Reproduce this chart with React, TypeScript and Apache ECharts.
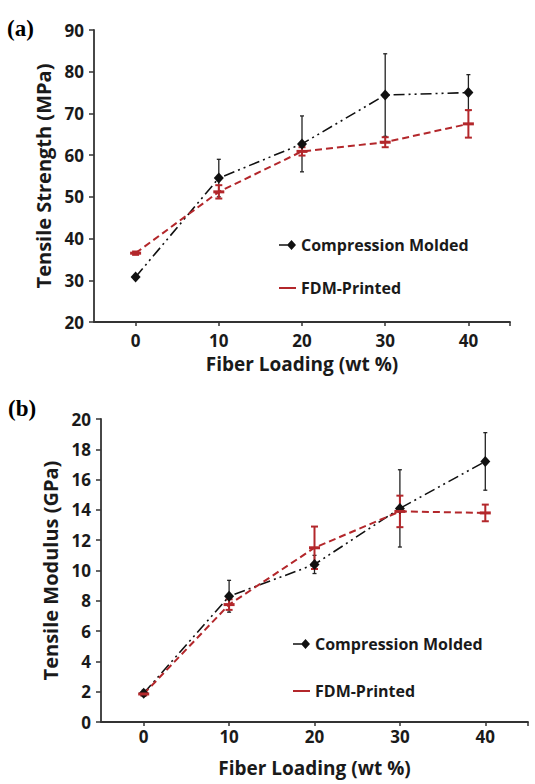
import React, { useEffect, useRef } from "react";
import * as echarts from "echarts";

const fiberLoading = [0, 10, 20, 30, 40];
const xTickValues = [0, 10, 20, 30, 40, 45];
const xLabelValues = [0, 10, 20, 30, 40];

const strengthCM = [30.8, 54.5, 62.7, 74.4, 75.0];
const strengthCMErr = [0.5, 4.5, 6.7, 9.9, 4.3];
const strengthFDM = [36.5, 51.2, 60.9, 63.1, 67.5];
const strengthFDMErr = [0.4, 1.6, 1.0, 1.2, 3.3];

const modulusCM = [1.9, 8.3, 10.4, 14.1, 17.2];
const modulusCMErr = [0.2, 1.05, 0.6, 2.55, 1.9];
const modulusFDM = [1.85, 7.75, 11.5, 13.9, 13.8];
const modulusFDMErr = [0.1, 0.35, 1.4, 1.04, 0.55];

const seriesNames = ["Compression Molded", "FDM-Printed"];
const panelLabels = ["(a)", "(b)"];
const axisTitlesX = ["Fiber Loading (wt %)", "Fiber Loading (wt %)"];
const axisTitlesY = ["Tensile Strength (MPa)", "Tensile Modulus (GPa)"];

const BLACK = "#111111";
const RED = "#b3272b";
const FONT = "'Open Sans', sans-serif";
const AXIS = "#333333";

const pts = (ys: number[]) => fiberLoading.map((x, i) => [x, ys[i]]);
const errPts = (ys: number[], es: number[]) => fiberLoading.map((x, i) => [x, ys[i], es[i]]);

function errorSeries(data: number[][], color: string, cap: number, width: number, idx: number) {
  return {
    type: "custom",
    xAxisIndex: idx,
    yAxisIndex: idx,
    z: 1,
    silent: true,
    encode: { x: 0, y: 1 },
    data,
    renderItem: (params: any, api: any) => {
      const x = api.value(0);
      const y = api.value(1);
      const e = api.value(2);
      const lo = api.coord([x, y - e]);
      const hi = api.coord([x, y + e]);
      const style = { stroke: color, lineWidth: width };
      return {
        type: "group",
        children: [
          { type: "line", shape: { x1: lo[0], y1: lo[1], x2: hi[0], y2: hi[1] }, style },
          { type: "line", shape: { x1: lo[0] - cap, y1: lo[1], x2: lo[0] + cap, y2: lo[1] }, style },
          { type: "line", shape: { x1: hi[0] - cap, y1: hi[1], x2: hi[0] + cap, y2: hi[1] }, style },
        ],
      };
    },
  };
}

function xAxis(idx: number, labelMargin: number, nameGap: number) {
  return {
    type: "value",
    gridIndex: idx,
    min: -5,
    max: 45,
    name: axisTitlesX[idx],
    nameLocation: "middle",
    nameGap,
    nameTextStyle: { fontFamily: FONT, fontWeight: "bold", fontSize: 19, color: "#1a1a1a" },
    axisLine: { onZero: false, lineStyle: { color: AXIS, width: 1.8 } },
    axisTick: { show: true, length: 4, customValues: xTickValues, lineStyle: { color: AXIS, width: 1.5 } },
    axisLabel: {
      customValues: xLabelValues,
      margin: labelMargin,
      fontFamily: FONT,
      fontWeight: "bold",
      fontSize: 17,
      color: "#1a1a1a",
    },
    splitLine: { show: false },
  };
}

function yAxis(idx: number, min: number, max: number, interval: number, nameGap: number) {
  return {
    type: "value",
    gridIndex: idx,
    min,
    max,
    interval,
    name: axisTitlesY[idx],
    nameLocation: "middle",
    nameGap,
    nameTextStyle: { fontFamily: FONT, fontWeight: "bold", fontSize: 20, color: "#1a1a1a" },
    axisLine: { show: true, onZero: false, lineStyle: { color: AXIS, width: 1.8 } },
    axisTick: { show: true, length: 5, lineStyle: { color: AXIS, width: 1.5 } },
    axisLabel: { margin: 10, fontFamily: FONT, fontWeight: "bold", fontSize: 17, color: "#1a1a1a" },
    splitLine: { show: false },
  };
}

function lineSeries(name: string, data: number[][], idx: number, isCM: boolean) {
  return {
    type: "line",
    name,
    xAxisIndex: idx,
    yAxisIndex: idx,
    data,
    z: 3,
    symbol: isCM ? "diamond" : "rect",
    symbolSize: isCM ? [10, 11] : [11, 3],
    itemStyle: { color: isCM ? BLACK : RED },
    lineStyle: isCM
      ? { color: BLACK, width: 1.6, type: [11, 4, 2, 4, 2, 4] }
      : { color: RED, width: 2, type: [7, 4] },
  };
}

const CM_ICON = "path://M0,4.2 L9,4.2 L9,5.8 L0,5.8 Z M8,5 L12.5,0 L17,5 L12.5,10 Z";
const FDM_ICON = "path://M0,0 L17,0 L17,2 L0,2 Z";

function legend(left: number, top: number, gap: number) {
  return {
    orient: "vertical",
    left,
    top,
    itemGap: gap,
    itemWidth: 17,
    itemHeight: 10,
    selectedMode: false,
    data: [
      { name: seriesNames[0], icon: CM_ICON },
      { name: seriesNames[1], icon: FDM_ICON },
    ],
    textStyle: { fontFamily: FONT, fontWeight: "bold", fontSize: 16, color: "#1a1a1a" },
  };
}

export default function App() {
  const ref = useRef<HTMLDivElement>(null);
  useEffect(() => {
    if (!ref.current) return;
    const chart = echarts.init(ref.current, null, { renderer: "svg" });
    chart.setOption({
      animation: false,
      backgroundColor: "#ffffff",
      grid: [
        { left: 94, top: 30, width: 416, height: 292 },
        { left: 101, top: 419, width: 427, height: 303 },
      ],
      xAxis: [xAxis(0, 10, 32), xAxis(1, 6, 36)],
      yAxis: [yAxis(0, 20, 90, 10, 40), yAxis(1, 0, 20, 2, 40)],
      legend: [legend(274, 232, 27), legend(288, 631, 31)],
      graphic: [
        {
          type: "text",
          left: 7,
          top: 17,
          style: { text: panelLabels[0], font: "bold 23px 'Liberation Serif', 'Times New Roman', serif", fill: "#000" },
        },
        {
          type: "text",
          left: 8,
          top: 397,
          style: { text: panelLabels[1], font: "bold 23px 'Liberation Serif', 'Times New Roman', serif", fill: "#000" },
        },
      ],
      series: [
        errorSeries(errPts(strengthCM, strengthCMErr), "#222", 2, 1.3, 0),
        errorSeries(errPts(strengthFDM, strengthFDMErr), RED, 3.5, 2, 0),
        lineSeries(seriesNames[0], pts(strengthCM), 0, true),
        lineSeries(seriesNames[1], pts(strengthFDM), 0, false),
        errorSeries(errPts(modulusCM, modulusCMErr), "#222", 2, 1.3, 1),
        errorSeries(errPts(modulusFDM, modulusFDMErr), RED, 3.5, 2, 1),
        lineSeries(seriesNames[0], pts(modulusCM), 1, true),
        lineSeries(seriesNames[1], pts(modulusFDM), 1, false),
      ],
    });
    return () => chart.dispose();
  }, []);
  return (
    <div
      ref={ref}
      style={{ position: "fixed", left: 0, top: 0, width: 535, height: 784, background: "#fff" }}
    />
  );
}
